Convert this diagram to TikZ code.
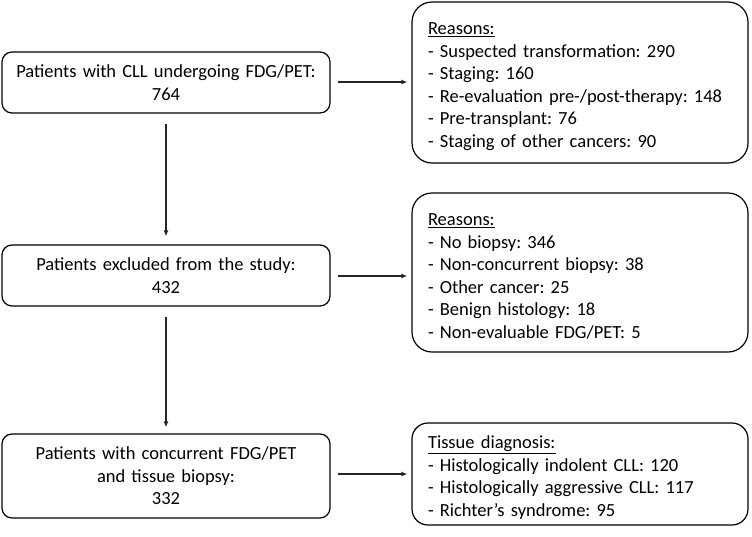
\documentclass[tikz,border=0pt]{standalone}
\usepackage{fontspec}
\setmainfont{Carlito}
\usetikzlibrary{arrows.meta, positioning}
\frenchspacing
\newcommand{\firstline}{\rule{0pt}{20pt}}
\tikzset{
    stepbox/.style={draw, rounded corners=10pt, line width=1.2pt, align=center,
        inner sep=4pt, text width=320pt, minimum height=#1},
    stepbox/.default={61pt},
    listbox/.style={draw, rounded corners=20pt, line width=1.2pt, align=left,
        inner xsep=16pt, inner ysep=4pt, text width=304pt, minimum height=#1},
    flow/.style={-{Latex[length=6pt,width=5pt]}, line width=1.2pt, draw=black!85}
}
\begin{document}
\begin{tikzpicture}[x=1pt, y=-1pt, font=\fontsize{18.5}{22.5}\selectfont]
    \useasboundingbox (0,0) rectangle (752,536);
    % left column
    \node[stepbox] (all) at (166,82.5) {Patients with CLL undergoing FDG/PET:\\764};
    \node[stepbox] (excl) at (166,275.5) {Patients excluded from the study:\\432};
    \node[stepbox=84pt] (incl) at (166,476) {Patients with concurrent FDG/PET\\and tissue biopsy:\\332};
    % right column
    \node[listbox=161pt] (why) at (580,82.5) {\firstline\underline{Reasons:}\\
        - Suspected transformation: 290\\
        - Staging: 160\\
        - Re-evaluation pre-/post-therapy: 148\\
        - Pre-transplant: 76\\
        - Staging of other cancers: 90};
    \node[listbox=159pt] (whynot) at (580,272.5) {\firstline\underline{Reasons:}\\
        - No biopsy: 346\\
        - Non-concurrent biopsy: 38\\
        - Other cancer: 25\\
        - Benign histology: 18\\
        - Non-evaluable FDG/PET: 5};
    \node[listbox=102pt, rounded corners=16pt] (diag) at (580,474) {\firstline\underline{Tissue diagnosis:}\\
        - Histologically indolent CLL: 120\\
        - Histologically aggressive CLL: 117\\
        - Richter's syndrome:\ 95};
    % connectors
    \draw[flow] ([yshift=-10pt]all.south) -- ([yshift=8pt]excl.north);
    \draw[flow] ([yshift=-10pt]excl.south) -- ([yshift=6pt]incl.north);
    \draw[flow] ([xshift=7pt,yshift=0.5pt]all.east) -- ([xshift=-4pt,yshift=0.5pt]why.west |- all.east);
    \draw[flow] ([xshift=7pt,yshift=-0.5pt]excl.east) -- ([xshift=-4pt,yshift=-0.5pt]whynot.west |- excl.east);
    \draw[flow] ([xshift=7pt,yshift=2pt]incl.east) -- ([xshift=-4pt,yshift=2pt]diag.west |- incl.east);
\end{tikzpicture}
\end{document}
